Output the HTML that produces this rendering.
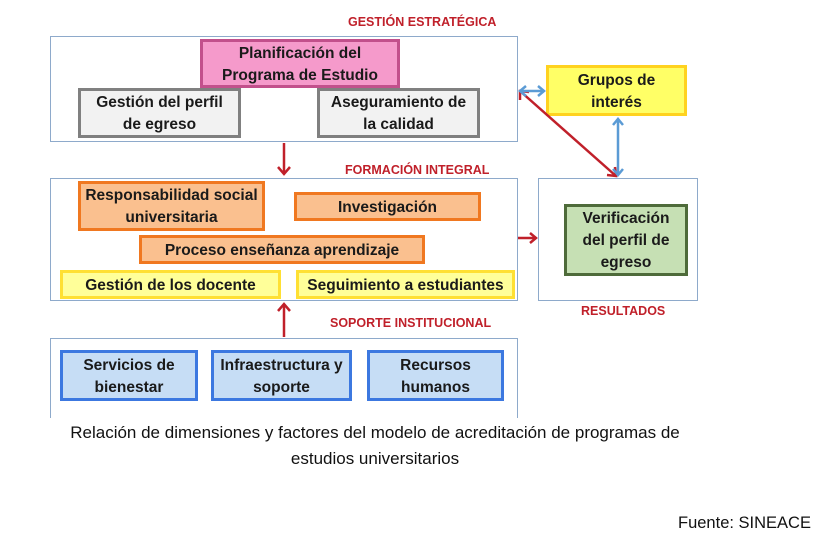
<!DOCTYPE html>
<html><head><meta charset="utf-8"><style>
body{margin:0;width:827px;height:539px;background:#fff;position:relative;overflow:hidden;font-family:"Liberation Sans",sans-serif}
.c{position:absolute;border:1px solid #8eaacb;box-sizing:border-box}
.b{position:absolute;box-sizing:border-box;display:flex;align-items:center;justify-content:center;text-align:center;font-weight:bold;font-size:15.5px;line-height:22px;color:#1a1a1a;padding-top:2px}
.l{position:absolute;color:#c0202a;font-weight:bold;font-size:12.5px;white-space:nowrap}
.t{position:absolute;font-size:17px;color:#111;white-space:nowrap}
</style></head><body>
<div class="c" style="left:50px;top:36px;width:468px;height:106px"></div>
<div class="c" style="left:50px;top:178px;width:468px;height:123px"></div>
<div class="c" style="left:50px;top:338px;width:468px;height:80px;border-bottom:none"></div>
<div class="c" style="left:538px;top:178px;width:160px;height:123px"></div>

<div class="b" style="left:200px;top:39px;width:200px;height:49px;background:#f59acb;border:3px solid #c2508c">Planificación del<br>Programa de Estudio</div>
<div class="b" style="left:78px;top:88px;width:163px;height:50px;background:#f2f2f2;border:3px solid #808080">Gestión del perfil<br>de egreso</div>
<div class="b" style="left:317px;top:88px;width:163px;height:50px;background:#f2f2f2;border:3px solid #808080">Aseguramiento de<br>la calidad</div>

<div class="b" style="left:78px;top:181px;width:187px;height:50px;background:#fac08f;border:3px solid #f07820">Responsabilidad social<br>universitaria</div>
<div class="b" style="left:294px;top:192px;width:187px;height:29px;background:#fac08f;border:3px solid #f07820">Investigación</div>
<div class="b" style="left:139px;top:235px;width:286px;height:29px;background:#fac08f;border:3px solid #f07820">Proceso enseñanza aprendizaje</div>
<div class="b" style="left:60px;top:270px;width:221px;height:29px;background:#ffff99;border:3px solid #ffe033">Gestión de los docente</div>
<div class="b" style="left:296px;top:270px;width:219px;height:29px;background:#ffff99;border:3px solid #ffe033">Seguimiento a estudiantes</div>

<div class="b" style="left:60px;top:350px;width:138px;height:51px;background:#c6ddf5;border:3px solid #3c78e0">Servicios de<br>bienestar</div>
<div class="b" style="left:211px;top:350px;width:141px;height:51px;background:#c6ddf5;border:3px solid #3c78e0">Infraestructura y<br>soporte</div>
<div class="b" style="left:367px;top:350px;width:137px;height:51px;background:#c6ddf5;border:3px solid #3c78e0">Recursos<br>humanos</div>

<div class="b" style="left:546px;top:65px;width:141px;height:51px;background:#ffff66;border:3px solid #ffd21f">Grupos de<br>interés</div>
<div class="b" style="left:564px;top:204px;width:124px;height:72px;background:#c6e0b4;border:3px solid #4e6b3a">Verificación<br>del perfil de<br>egreso</div>

<div class="l" style="left:348px;top:15px">GESTIÓN ESTRATÉGICA</div>
<div class="l" style="left:345px;top:163px">FORMACIÓN INTEGRAL</div>
<div class="l" style="left:330px;top:316px">SOPORTE INSTITUCIONAL</div>
<div class="l" style="left:581px;top:304px">RESULTADOS</div>

<svg width="827" height="539" style="position:absolute;left:0;top:0">
<g stroke="#c0202a" stroke-width="2.5" fill="none">
<line x1="284" y1="143" x2="284" y2="174"/><polyline points="278,167 284,174 290,167"/>
<line x1="284" y1="337" x2="284" y2="304"/><polyline points="278,311 284,304 290,311"/>
<line x1="518" y1="238" x2="536" y2="238"/><polyline points="530,233 536,238 530,243"/>
<line x1="520" y1="91" x2="616" y2="176"/><polyline points="520,100 520,91 529,92"/><polyline points="607,175 616,176 615,167"/>
</g>
<g stroke="#5b9bd5" stroke-width="2.5" fill="none">
<line x1="520" y1="91" x2="544" y2="91"/><polyline points="526,86 520,91 526,96"/><polyline points="538,86 544,91 538,96"/>
<line x1="618" y1="119" x2="618" y2="175"/><polyline points="613,125 618,119 623,125"/><polyline points="613,169 618,175 623,169"/>
</g>
</svg>

<div class="t" style="left:0;width:750px;text-align:center;top:423px">Relación de dimensiones y factores del modelo de acreditación de programas de</div>
<div class="t" style="left:0;width:750px;text-align:center;top:449px">estudios universitarios</div>
<div class="t" style="left:678px;top:514px;font-size:16.5px">Fuente: SINEACE</div>
</body></html>
